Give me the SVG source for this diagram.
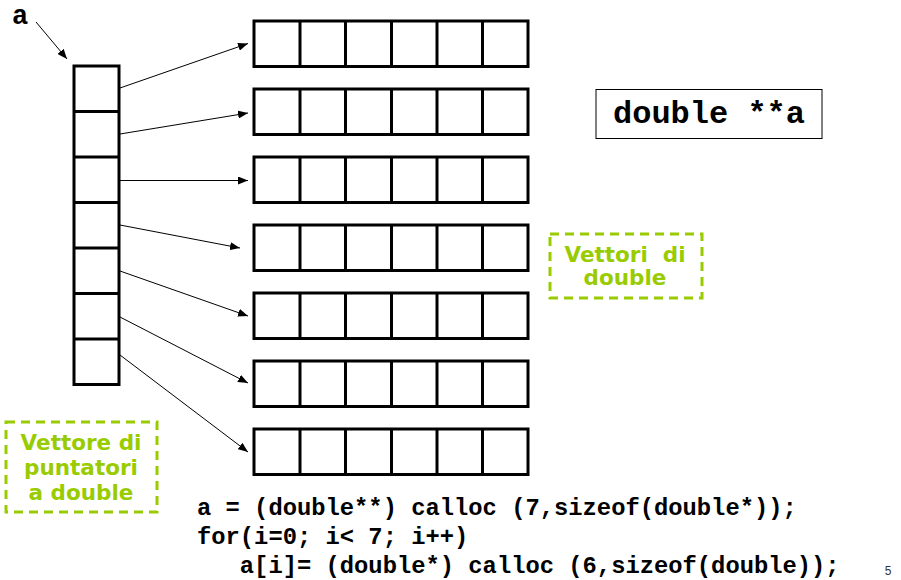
<svg xmlns="http://www.w3.org/2000/svg" width="901" height="580" viewBox="0 0 901 580">
<style>
.cell{fill:#fff;stroke:#000;stroke-width:3}
.div{stroke:#000;stroke-width:3}
.conn{stroke:#000;stroke-width:1;fill:none}
.mono{font-family:"Liberation Mono","Courier New",monospace;font-weight:bold;fill:#000}
.note{fill:none;stroke:#99CC00;stroke-width:3;stroke-dasharray:9 6}
.notetext{font-family:"DejaVu Sans",Verdana,sans-serif;font-weight:bold;font-size:21.5px;fill:#99CC00;text-anchor:middle}
</style>
<defs>
<marker id="arr" viewBox="0 0 10 8" refX="10" refY="4" markerWidth="10" markerHeight="8" markerUnits="userSpaceOnUse" orient="auto">
<path d="M0,0 L10,4 L0,8 Z" fill="#000"/>
</marker>
</defs>
<rect width="901" height="580" fill="#fff"/>

<g id="label-a">
<text class="mono" x="12" y="24" font-size="27">a</text>
</g>

<g id="pointer-vector">
<rect class="cell" x="74" y="66" width="45" height="318.5"/>
<line class="div" x1="74" y1="111.5" x2="119" y2="111.5"/>
<line class="div" x1="74" y1="157" x2="119" y2="157"/>
<line class="div" x1="74" y1="202.5" x2="119" y2="202.5"/>
<line class="div" x1="74" y1="248" x2="119" y2="248"/>
<line class="div" x1="74" y1="293.5" x2="119" y2="293.5"/>
<line class="div" x1="74" y1="339" x2="119" y2="339"/>
</g>

<defs>
<g id="rowshape">
<rect class="cell" x="254" y="0" width="274" height="45.5"/>
<line class="div" x1="300" y1="0" x2="300" y2="45.5"/>
<line class="div" x1="345.5" y1="0" x2="345.5" y2="45.5"/>
<line class="div" x1="391.5" y1="0" x2="391.5" y2="45.5"/>
<line class="div" x1="437" y1="0" x2="437" y2="45.5"/>
<line class="div" x1="482.5" y1="0" x2="482.5" y2="45.5"/>
</g>
</defs>
<g id="row1"><use href="#rowshape" y="21"/></g>
<g id="row2"><use href="#rowshape" y="89"/></g>
<g id="row3"><use href="#rowshape" y="157"/></g>
<g id="row4"><use href="#rowshape" y="225"/></g>
<g id="row5"><use href="#rowshape" y="293"/></g>
<g id="row6"><use href="#rowshape" y="361"/></g>
<g id="row7"><use href="#rowshape" y="429"/></g>

<g id="connectors">
<line class="conn" x1="36" y1="22" x2="67" y2="59" marker-end="url(#arr)"/>
<line class="conn" x1="120" y1="88" x2="248" y2="43.5" marker-end="url(#arr)"/>
<line class="conn" x1="120" y1="134" x2="248" y2="113" marker-end="url(#arr)"/>
<line class="conn" x1="120" y1="180.5" x2="248" y2="180.5" marker-end="url(#arr)"/>
<line class="conn" x1="120" y1="225" x2="240" y2="248" marker-end="url(#arr)"/>
<line class="conn" x1="120" y1="271" x2="248" y2="316" marker-end="url(#arr)"/>
<line class="conn" x1="120" y1="317" x2="248" y2="383" marker-end="url(#arr)"/>
<line class="conn" x1="120" y1="355" x2="248" y2="452" marker-end="url(#arr)"/>
</g>

<g id="decl">
<rect x="596" y="89.5" width="226" height="49" fill="#fff" stroke="#000" stroke-width="1"/>
<text class="mono" x="709" y="123" font-size="32" text-anchor="middle">double **a</text>
</g>

<g id="note-vettori">
<rect class="note" x="550" y="234" width="152" height="64"/>
<text class="notetext" x="625" y="262" xml:space="preserve">Vettori  di</text>
<text class="notetext" x="625" y="285">double</text>
</g>

<g id="note-puntatori">
<rect class="note" x="6" y="422" width="151" height="90"/>
<text class="notetext" x="81" y="450">Vettore di</text>
<text class="notetext" x="81" y="475">puntatori</text>
<text class="notetext" x="81" y="500">a double</text>
</g>

<g id="code">
<text class="mono" x="197" y="515" font-size="23.8" xml:space="preserve">a = (double**) calloc (7,sizeof(double*));</text>
<text class="mono" x="197" y="544" font-size="23.8" xml:space="preserve">for(i=0; i&lt; 7; i++)</text>
<text class="mono" x="197" y="573" font-size="23.8" xml:space="preserve">   a[i]= (double*) calloc (6,sizeof(double));</text>
</g>

<g id="page">
<text x="888" y="575" font-family="Liberation Sans, Arial, sans-serif" font-size="12" fill="#333" text-anchor="middle">5</text>
</g>
</svg>
